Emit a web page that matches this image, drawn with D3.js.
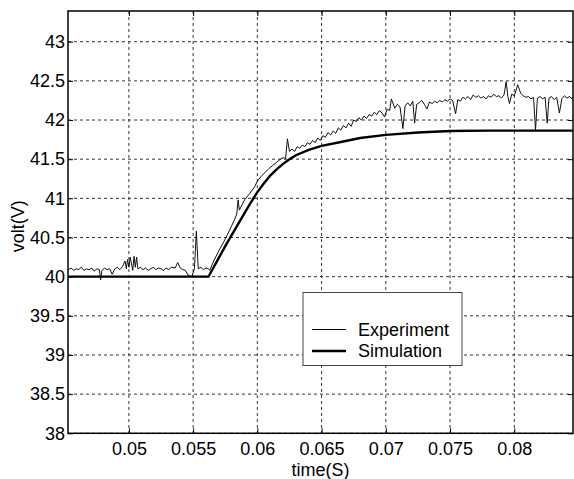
<!DOCTYPE html>
<html>
<head>
<meta charset="utf-8">
<script src="https://cdn.jsdelivr.net/npm/d3@7"></script>
<style>
  body { margin: 0; background: #fff; }
  svg { display: block; }
  text { font-family: "Liberation Sans", Arial, sans-serif; fill: #000; }
</style>
</head>
<body>
<div id="chart"></div>
<script>
var W = 574, H = 479;
var margin = {top: 11, right: 1, bottom: 45.7, left: 68};
var width = W - margin.left - margin.right;
var height = H - margin.top - margin.bottom;

var xTicks = [0.05, 0.055, 0.06, 0.065, 0.07, 0.075, 0.08];
var yTicks = [38, 38.5, 39, 39.5, 40, 40.5, 41, 41.5, 42, 42.5, 43];

// simulation (thick line)
var simT = [0.0452, 0.0562, 0.0566, 0.0570, 0.0575, 0.0580, 0.0585, 0.0590, 0.0595,
  0.0600, 0.0605, 0.0610, 0.0615, 0.0620, 0.0625, 0.0630, 0.0640, 0.0650, 0.0665,
  0.0680, 0.0700, 0.0725, 0.0750, 0.0780, 0.0810, 0.0847];
var simV = [40.0, 40.0, 40.12, 40.24, 40.39, 40.53, 40.67, 40.81, 40.95,
  41.08, 41.19, 41.29, 41.37, 41.44, 41.50, 41.55, 41.62, 41.67, 41.72,
  41.77, 41.81, 41.84, 41.86, 41.865, 41.865, 41.865];

// experiment (thin noisy line)
var expT = [0.0453, 0.0455, 0.0457, 0.0459, 0.0461, 0.0463, 0.0465, 0.0467, 0.0469, 0.0471,
  0.0473, 0.0475, 0.0477, 0.0478, 0.0479, 0.0481, 0.0483, 0.0485, 0.0487, 0.0489,
  0.0491, 0.0493, 0.0495, 0.0497, 0.0498, 0.0499, 0.0500, 0.0501, 0.0503, 0.0504,
  0.0505, 0.0506, 0.0507, 0.0509, 0.0511, 0.0513, 0.0515, 0.0517, 0.0519, 0.0521,
  0.0523, 0.0525, 0.0527, 0.0529, 0.0531, 0.0533, 0.0536, 0.0538, 0.0540, 0.0542,
  0.0544, 0.0546, 0.0549, 0.0551, 0.05525, 0.0554, 0.0556, 0.0558, 0.0560, 0.0562,
  0.0563, 0.0566, 0.0570, 0.0574, 0.0578, 0.0582, 0.0584, 0.0585, 0.0586, 0.0590,
  0.0594, 0.0598, 0.0600, 0.0603, 0.0606, 0.0609, 0.0612, 0.0615, 0.0618, 0.0620,
  0.0622, 0.06234, 0.0625, 0.0627, 0.0629, 0.0631, 0.0633, 0.0635, 0.0637, 0.0639,
  0.0641, 0.0643, 0.0645, 0.0647, 0.0649, 0.0651, 0.0653, 0.0655, 0.0657, 0.0659,
  0.0661, 0.0663, 0.0665, 0.0667, 0.0669, 0.0671, 0.0673, 0.0675, 0.0677, 0.0679,
  0.0681, 0.0683, 0.0685, 0.0687, 0.0689, 0.0691, 0.0693, 0.0695, 0.0697, 0.0699,
  0.0701, 0.0703, 0.07043, 0.0707, 0.0709, 0.0711, 0.07133, 0.0715, 0.0717, 0.0719,
  0.0721, 0.07224, 0.0724, 0.0726, 0.0728, 0.0730, 0.0732, 0.0734, 0.0736, 0.0738,
  0.0740, 0.0742, 0.0744, 0.0746, 0.0748, 0.0750, 0.0752, 0.07543, 0.0756, 0.0758,
  0.0760, 0.0762, 0.0764, 0.0766, 0.0768, 0.0770, 0.0772, 0.0774, 0.0776, 0.0778,
  0.0780, 0.0782, 0.0784, 0.0786, 0.0788, 0.0790, 0.0792, 0.07937, 0.0795, 0.07963,
  0.0798, 0.0800, 0.08027, 0.0805, 0.0807, 0.0809, 0.0811, 0.0813, 0.0815, 0.08165,
  0.0818, 0.0820, 0.0822, 0.0824, 0.08256, 0.0827, 0.0829, 0.0831, 0.0833, 0.08351,
  0.0837, 0.0839, 0.0841, 0.0843, 0.0845, 0.0847];
var expV = [40.09, 40.11, 40.08, 40.10, 40.09, 40.12, 40.08, 40.10, 40.09, 40.11,
  40.07, 40.10, 40.09, 39.96, 40.08, 40.11, 40.09, 40.10, 40.03, 40.10,
  40.12, 40.09, 40.13, 40.20, 40.10, 40.22, 40.12, 40.25, 40.08, 40.26,
  40.12, 40.25, 40.10, 40.12, 40.09, 40.11, 40.08, 40.10, 40.12, 40.09,
  40.11, 40.10, 40.08, 40.11, 40.09, 40.12, 40.11, 40.18, 40.11, 40.09,
  40.08, 40.02, 40.00, 40.10, 40.58, 40.10, 40.12, 40.09, 40.11, 40.10,
  40.08, 40.20, 40.33, 40.45, 40.58, 40.72, 40.80, 40.98, 40.85, 40.98,
  41.06, 41.15, 41.22, 41.28, 41.33, 41.38, 41.42, 41.46, 41.50, 41.52,
  41.51, 41.76, 41.60, 41.63, 41.60, 41.66, 41.64, 41.68, 41.66, 41.71,
  41.69, 41.74, 41.71, 41.77, 41.74, 41.80, 41.78, 41.84, 41.81, 41.86,
  41.83, 41.90, 41.87, 41.93, 41.90, 41.96, 41.92, 42.00, 41.98, 42.03,
  42.00, 42.05, 42.02, 42.07, 42.05, 42.10, 42.07, 42.12, 42.09, 42.04,
  42.14, 42.12, 42.27, 42.15, 42.20, 42.17, 41.89, 42.18, 42.22, 42.18,
  42.24, 41.96, 42.20, 42.22, 42.25, 42.20, 42.14, 42.23, 42.21, 42.24,
  42.22, 42.25, 42.23, 42.26, 42.24, 42.27, 42.25, 42.08, 42.26, 42.24,
  42.29, 42.27, 42.30, 42.26, 42.32, 42.29, 42.31, 42.28, 42.30, 42.27,
  42.31, 42.29, 42.33, 42.30, 42.31, 42.28, 42.32, 42.49, 42.30, 42.21,
  42.33, 42.31, 42.45, 42.34, 42.31, 42.29, 42.30, 42.27, 42.29, 41.87,
  42.28, 42.30, 42.27, 42.29, 41.96, 42.28, 42.30, 42.26, 42.29, 42.09,
  42.27, 42.31, 42.28, 42.30, 42.27, 42.32];

var sim = simT.map(function(t, i) { return {t: t, v: simV[i]}; });
var exp = expT.map(function(t, i) { return {t: t, v: expV[i]}; });

var svg = d3.select("#chart").append("svg")
  .attr("width", W)
  .attr("height", H);

var x = d3.scaleLinear().domain([0.04526, 0.08457]).range([0, width]);
var y = d3.scaleLinear().domain([38, 43.392]).range([height, 0]);

var g = svg.append("g")
  .attr("transform", "translate(" + margin.left + "," + margin.top + ")");

g.append("clipPath").attr("id", "clip")
  .append("rect").attr("width", width).attr("height", height);

// grid
g.append("g").selectAll("line").data(xTicks).enter().append("line")
  .attr("x1", function(d) { return x(d); }).attr("x2", function(d) { return x(d); })
  .attr("y1", 0).attr("y2", height)
  .attr("stroke", "#333").attr("stroke-width", 1)
  .attr("stroke-dasharray", "3,3");
g.append("g").selectAll("line").data(yTicks).enter().append("line")
  .attr("y1", function(d) { return y(d); }).attr("y2", function(d) { return y(d); })
  .attr("x1", 0).attr("x2", width)
  .attr("stroke", "#333").attr("stroke-width", 1)
  .attr("stroke-dasharray", "3,3");

var line = d3.line()
  .x(function(d) { return x(d.t); })
  .y(function(d) { return y(d.v); });

g.append("path").datum(sim)
  .attr("clip-path", "url(#clip)")
  .attr("d", line)
  .attr("fill", "none").attr("stroke", "#000").attr("stroke-width", 2.4);

g.append("path").datum(exp)
  .attr("clip-path", "url(#clip)")
  .attr("d", line)
  .attr("fill", "none").attr("stroke", "#111").attr("stroke-width", 1)
  .attr("stroke-linejoin", "round");

// axes with inward ticks
var fmt = function(d) { return d3.format("")(+d.toFixed(4)); };

g.append("g")
  .attr("transform", "translate(0," + height + ")")
  .call(d3.axisBottom(x).tickValues(xTicks).tickSize(-5).tickPadding(9).tickFormat(fmt))
  .call(function(a) { a.select(".domain").remove(); });
g.append("g")
  .call(d3.axisTop(x).tickValues(xTicks).tickSize(-5).tickFormat(""))
  .call(function(a) { a.select(".domain").remove(); });
g.append("g")
  .call(d3.axisLeft(y).tickValues(yTicks).tickSize(-5).tickPadding(3).tickFormat(fmt))
  .call(function(a) { a.select(".domain").remove(); });
g.append("g")
  .attr("transform", "translate(" + width + ",0)")
  .call(d3.axisRight(y).tickValues(yTicks).tickSize(-5).tickFormat(""))
  .call(function(a) { a.select(".domain").remove(); });

g.selectAll(".tick line").attr("stroke", "#000").attr("stroke-width", 1);
g.selectAll(".tick text")
  .style("font-family", "'Liberation Sans', Arial, sans-serif")
  .style("font-size", "18px").attr("fill", "#000");

g.append("rect")
  .attr("width", width).attr("height", height)
  .attr("fill", "none").attr("stroke", "#000").attr("stroke-width", 1.5);

// axis titles
svg.append("text")
  .attr("x", margin.left + width / 2)
  .attr("y", 476)
  .style("text-anchor", "middle")
  .style("font-size", "18px")
  .text("time(S)");

svg.append("text")
  .attr("transform", "translate(24," + (margin.top + height / 2 + 4) + ") rotate(-90)")
  .style("text-anchor", "middle")
  .style("font-size", "18px")
  .text("volt(V)");

// legend
var legend = svg.append("g").attr("transform", "translate(303,292.5)");
legend.append("rect")
  .attr("width", 159).attr("height", 73)
  .attr("fill", "#fff").attr("stroke", "#444").attr("stroke-width", 1);

var legendItems = [
  {name: "Experiment", w: 1, y: 37},
  {name: "Simulation", w: 2.4, y: 58.5}
];
var li = legend.selectAll(".legend").data(legendItems).enter().append("g")
  .attr("class", "legend");
li.append("line")
  .attr("x1", 9).attr("x2", 43)
  .attr("y1", function(d) { return d.y; }).attr("y2", function(d) { return d.y; })
  .attr("stroke", "#000").attr("stroke-width", function(d) { return d.w; });
li.append("text")
  .attr("x", 55)
  .attr("y", function(d) { return d.y + 6; })
  .style("font-size", "18px")
  .text(function(d) { return d.name; });
</script>
</body>
</html>
